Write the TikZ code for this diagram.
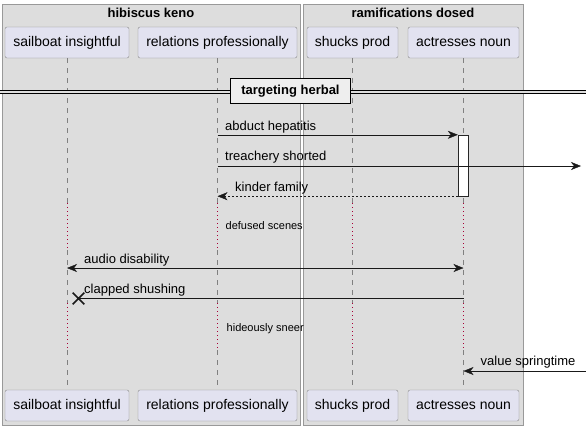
\documentclass[tikz,border=0pt]{standalone}
\usepackage{fontspec}
\setmainfont{Liberation Sans}
\usepackage{xcolor}
\usetikzlibrary{arrows.meta,positioning,shapes.misc,calc}

\definecolor{boxfill}{HTML}{DDDDDD}
\definecolor{boxline}{HTML}{999999}
\definecolor{partfill}{HTML}{E2E2F0}
\definecolor{partline}{HTML}{888888}
\definecolor{pausered}{HTML}{A80036}
\definecolor{divfill}{HTML}{EEEEEE}

\begin{document}
\begin{tikzpicture}[x=1pt, y=-1pt,
    grp/.style={rectangle, draw=boxline, fill=boxfill, inner sep=0pt},
    grptitle/.style={anchor=north, inner sep=0pt, font=\fontsize{13}{15}\selectfont\bfseries},
    part/.style={rectangle, draw=partline, fill=partfill, rounded corners=2pt, minimum height=31, inner sep=0pt, font=\fontsize{14}{16}\selectfont},
    life/.style={draw=gray, dash pattern=on 5pt off 5pt},
    pause/.style={draw=pausered, dash pattern=on 1pt off 3pt},
    act/.style={rectangle, draw=black!85, fill=white, minimum width=10, inner sep=0pt},
    msg/.style={draw=black!90, -{Stealth[length=10pt,width=8pt,inset=3pt]}},
    reply/.style={msg, dash pattern=on 2pt off 2pt},
    lbl/.style={anchor=base west, inner sep=0pt, font=\fontsize{13}{15}\selectfont},
    note/.style={anchor=base west, inner sep=0pt, font=\fontsize{11}{13}\selectfont},
    divbox/.style={rectangle, draw=black, fill=divfill, line width=1.6pt, minimum width=120, minimum height=25, font=\fontsize{13}{15}\selectfont\bfseries}
]
\useasboundingbox (0,0) rectangle (586,429);

% Boxes
\node[grp, minimum width=298, minimum height=421] (keno) at (151,214.5) {};
\node[grp, minimum width=220, minimum height=421] (ramif) at (413,214.5) {};
\node[grptitle] (keno-t) at ([yshift=-4]keno.north) {hibiscus keno};
\node[grptitle] (ramif-t) at ([yshift=-4]ramif.north) {ramifications dosed};

% Participants
\node[part, minimum width=124] (sail-top) at (67,42.5) {sailboat insightful};
\node[part, minimum width=159] (rel-top) at (217.5,42.5) {relations professionally};
\node[part, minimum width=91] (shuck-top) at (352.5,42.5) {shucks prod};
\node[part, minimum width=111] (actr-top) at (463.5,42.5) {actresses noun};
\node[part, minimum width=124] (sail-bot) at (67,405.5) {sailboat insightful};
\node[part, minimum width=159] (rel-bot) at (217.5,405.5) {relations professionally};
\node[part, minimum width=91] (shuck-bot) at (352.5,405.5) {shucks prod};
\node[part, minimum width=111] (actr-bot) at (463.5,405.5) {actresses noun};

% Lifelines
\foreach \p in {sail,rel,shuck,actr} {
  \draw[life] (\p-top.south) -- (\p-top |- 0,203);
  \draw[pause] (\p-top |- 0,203) -- (\p-top |- 0,250);
  \draw[life] (\p-top |- 0,250) -- (\p-top |- 0,303);
  \draw[pause] (\p-top |- 0,303) -- (\p-top |- 0,350);
  \draw[life] (\p-top |- 0,350) -- (\p-bot.north);
}

% Divider
\coordinate (div-l) at (0,92);
\coordinate (div-r) at (586,92);
\draw[black, double=boxfill, double distance=2pt, line width=0.8pt] (div-l) -- (div-r);
\node[divbox] (herbal) at (290.5,91) {targeting herbal};

% Activation
\node[act, minimum height=61] (actbar) at (463,165.5) {};

% Messages
\coordinate (out-r) at (581,166);
\coordinate (in-r) at (586,371);
\draw[msg] (rel-top |- actbar.north) -- (actbar.north west);
\node[lbl] (m1) at (225,130) {abduct hepatitis};
\draw[msg] (rel-top |- out-r) -- (out-r);
\node[lbl] (m2) at (225,160.5) {treachery shorted};
\draw[reply] (actbar.south west) -- (rel-top |- actbar.south);
\node[lbl] (m3) at (235,191) {kinder family};
\node[note] (d1) at (225.5,229.5) {defused scenes};

\draw[msg, {Stealth[length=10pt,width=8pt,inset=3pt]}-{Stealth[length=10pt,width=8pt,inset=3pt]}] (sail-top |- 0,268) -- (actr-top |- 0,268);
\node[lbl] (m4) at (84,263.5) {audio disability};
\node[cross out, draw=black!90, line width=1.6pt, minimum size=10, inner sep=0pt] (kill) at (78.5,298.5) {};
\draw[draw=black!90] (actr-top |- kill) -- (kill.center);
\node[lbl] (m5) at (84,293.5) {clapped shushing};
\node[note] (d2) at (226.5,331.5) {hideously sneer};

\draw[msg] (in-r) -- (actr-top |- in-r);
\node[lbl] (m6) at (480.5,365.5) {value springtime};

\end{tikzpicture}
\end{document}
